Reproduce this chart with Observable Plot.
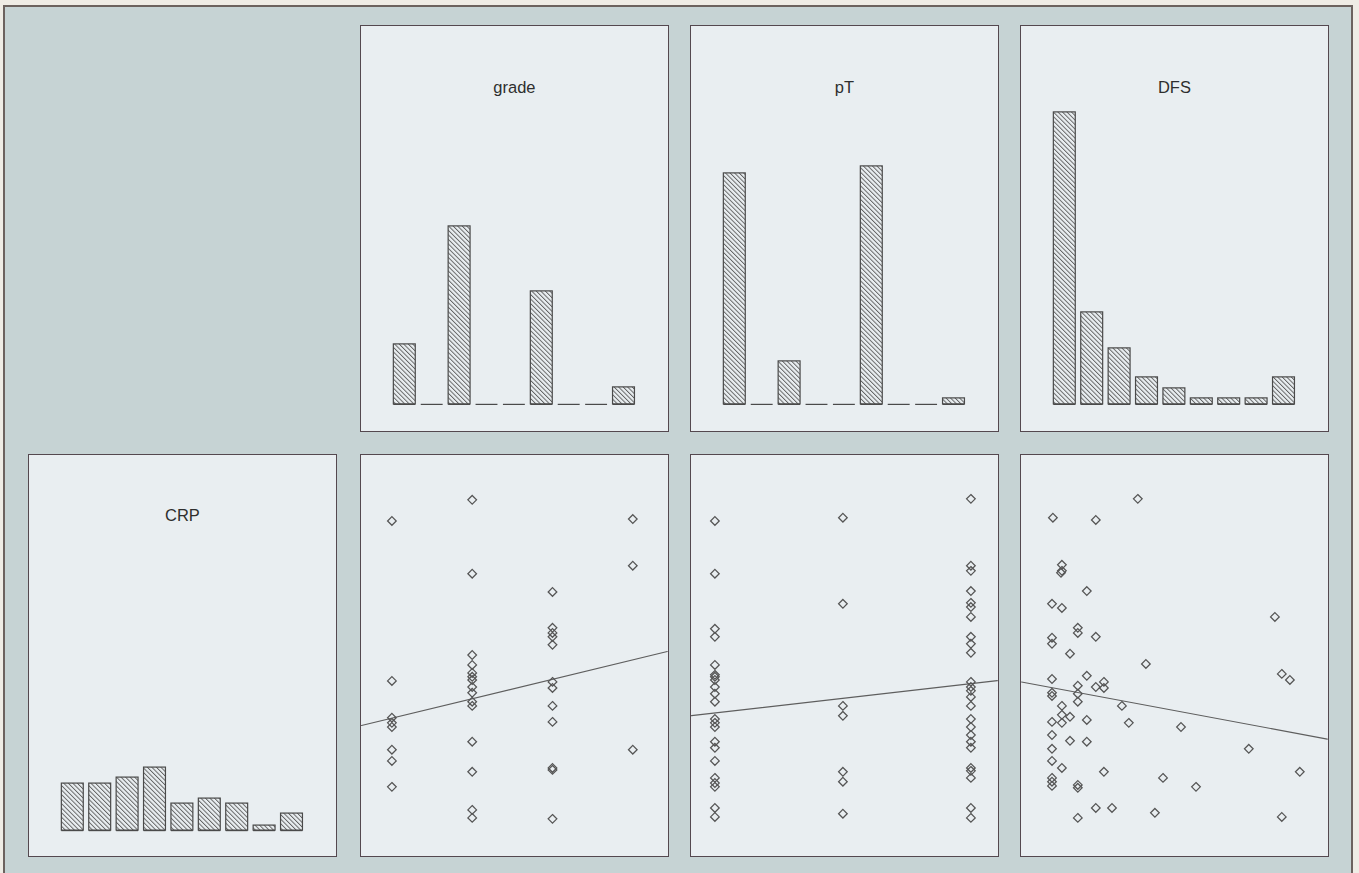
<!DOCTYPE html>
<html>
<head>
<meta charset="utf-8">
<script src="https://cdn.jsdelivr.net/npm/d3@7"></script>
<script src="https://cdn.jsdelivr.net/npm/@observablehq/plot@0.6"></script>
<style>
html, body { margin: 0; padding: 0; background: #efece5; }
#fig { position: relative; width: 1359px; height: 873px; overflow: hidden; background: #efece5; }
#sheet { position: absolute; left: 3px; top: 5px; width: 1350px; height: 880px; background: #c6d3d4;
  border-left: 2px solid #6c625e; border-top: 2px solid #6c625e; border-right: 2px solid #6c625e; box-sizing: border-box; }
.panel { position: absolute; box-sizing: border-box; border: 1.6px solid #54484f; background: #e9eef1; }
.panel svg { display: block; }
</style>
</head>
<body>
<svg width="0" height="0" style="position:absolute">
  <defs>
    <pattern id="hatch" patternUnits="userSpaceOnUse" width="3.2" height="3.2" patternTransform="rotate(-45)">
      <rect width="3.2" height="3.2" fill="#eaeff2"></rect>
      <line x1="0.5" y1="0" x2="0.5" y2="3.2" stroke="#5a5a5a" stroke-width="0.9"></line>
    </pattern>
  </defs>
</svg>
<div id="fig"><div id="sheet"></div></div>
<script>
// ---------- data ----------
const variables = ["CRP", "grade", "pT", "DFS"];

// diagonal histograms: 9 bins each, relative bar heights
const binIndex   = [1, 2, 3, 4, 5, 6, 7, 8, 9];
const crpHist    = [4.7, 4.7, 5.3, 6.3, 2.7, 3.2, 2.7, 0.5, 1.7];
const gradeHist  = [6.0, 0, 17.8, 0, 0, 11.3, 0, 0, 1.7];
const pTHist     = [23.1, 0, 4.3, 0, 0, 23.8, 0, 0, 0.6];
const dfsHist    = [29.2, 9.2, 5.6, 2.7, 1.6, 0.6, 0.6, 0.6, 2.7];

// CRP versus grade
const gradeLevels = [1, 2, 3, 4];
const crpByGrade = [
  [95.3, 45.3, 33.8, 32.2, 30.9, 23.8, 20.3, 12.2],
  [101.9, 78.8, 53.4, 50.3, 47.8, 46.6, 45.6, 43.4, 41.6, 38.8, 37.5, 26.3, 16.9, 5.0, 2.5],
  [73.1, 61.9, 60.3, 59.1, 56.6, 45.0, 43.1, 37.5, 32.5, 18.1, 17.5, 2.2],
  [95.9, 81.3, 23.8]
];

// CRP versus pT
const pTLevels = [1, 2, 3];
const crpByPT = [
  [95.3, 78.8, 61.6, 59.1, 50.3, 47.2, 46.6, 45.6, 43.4, 41.3, 38.8, 33.4, 32.2, 30.9, 26.3, 24.4, 20.3, 15.0, 13.4, 12.2, 5.6, 2.8],
  [96.3, 69.4, 37.5, 34.4, 16.9, 13.8, 3.8],
  [102.2, 81.3, 79.7, 73.4, 69.7, 68.4, 65.3, 59.1, 56.9, 54.1, 45.0, 43.4, 42.2, 40.3, 37.5, 33.4, 30.9, 28.4, 26.3, 24.4, 18.1, 17.2, 15.0, 5.6, 2.5]
];

// CRP versus DFS
const dfsValues = [31.3, 3.0, 17.3, 6.0, 6.0, 5.7, 14.3, 2.7, 6.0, 77.0, 11.3, 11.3, 17.3, 2.7, 2.7, 8.7, 34.0, 79.3, 82.0, 14.3,
  2.7, 11.3, 20.0, 20.0, 17.3, 2.7, 2.7, 11.3, 11.3, 26.0, 6.0, 6.0, 8.7, 14.3, 2.7, 6.0, 28.3, 45.7, 2.7, 8.7,
  14.3, 2.7, 68.3, 2.7, 6.0, 20.0, 85.3, 39.7, 2.7, 2.7, 2.7, 11.3, 11.3, 50.7, 17.3, 22.7, 37.0, 11.3, 79.3];
const crpByDFS = [102.2, 96.3, 95.6, 81.6, 79.7, 79.1, 73.4, 69.4, 68.1, 65.3, 61.9, 60.3, 59.1, 58.8, 56.9, 53.8, 50.6, 47.5, 45.6, 46.9,
  45.9, 43.8, 45.0, 43.1, 43.4, 41.6, 40.6, 41.3, 38.8, 37.5, 37.5, 34.7, 34.1, 33.1, 32.5, 32.2, 32.2, 30.9, 28.4, 26.6,
  26.3, 24.1, 24.1, 20.3, 18.1, 16.9, 16.9, 15.0, 15.0, 13.8, 12.5, 12.8, 11.9, 12.2, 5.6, 5.6, 4.1, 2.5, 2.8];

// fitted straight lines (intercept, slope) of CRP on each variable
const fitGrade = [27.6, 6.07];
const fitPT    = [30.7, 4.58];
const fitDFS   = [43.66, -0.175];

// ---------- layout ----------
const fig = document.getElementById("fig");
const colLeft = [28, 360, 690, 1020], colW = 309;
const rowTop = [25, 454], rowH = [407, 403];
const B = 1.6;
const FONT = "'Liberation Sans', Arial, Helvetica, sans-serif";
const INK = "#555555";

// page-pixel -> value mappings of each axis (layout calibration)
const crpY   = py => (826 - py) / 3.2;
const gradeX = px => 1 + (px - 392) / 80.3;
const pTX    = px => 1 + (px - 715) / 128;
const dfsX   = px => (px - 1044) / 3;
const binX   = left => px => 5 + (px - (left + colW / 2)) / 27.4;
const histY  = base => py => (base - py) / 10;

function makePanel(col, row, xf, yf, marksFn) {
  const left = colLeft[col], top = rowTop[row], w = colW, h = rowH[row];
  const div = document.createElement("div");
  div.className = "panel";
  Object.assign(div.style, {left: left + "px", top: top + "px", width: w + "px", height: h + "px"});
  const xdom = [xf(left + B), xf(left + w - B)];
  const ydom = [yf(top + h - B), yf(top + B)];
  const svg = Plot.plot({
    width: w - 2 * B, height: h - 2 * B, margin: 0,
    x: {domain: xdom, axis: null},
    y: {domain: ydom, axis: null},
    style: {background: "transparent", overflow: "visible", fontFamily: FONT},
    marks: marksFn(xdom)
  });
  div.appendChild(svg);
  fig.appendChild(div);
}

function histMarks(heights, label, dy) {
  const data = binIndex.map((b, i) => ({bin: b, h: heights[i]}));
  return () => [
    Plot.rect(data.filter(d => d.h > 0), {
      x1: d => d.bin - 0.4, x2: d => d.bin + 0.4, y1: 0, y2: "h",
      fill: "url(#hatch)", stroke: "#4a4a4a", strokeWidth: 1.2
    }),
    Plot.ruleY(data, {x1: d => d.bin - 0.4, x2: d => d.bin + 0.4, y: 0, stroke: "#4a4a4a", strokeWidth: 1.2}),
    Plot.text([label], {text: d => d, frameAnchor: "top", dy, fontSize: 16.5, fill: "#2e2e2e", fontFamily: FONT})
  ];
}

function scatterMarks(points, fit) {
  return xdom => [
    Plot.line(xdom.map(x => ({x, y: fit[0] + fit[1] * x})), {x: "x", y: "y", stroke: "#5e5e5e", strokeWidth: 1.2}),
    Plot.dot(points, {x: "x", y: "y", symbol: "diamond2", r: 3.9, stroke: INK, strokeWidth: 1.25, fill: "none"})
  ];
}

const gradePts = gradeLevels.flatMap((g, i) => crpByGrade[i].map(c => ({x: g, y: c})));
const pTPts = pTLevels.flatMap((p, i) => crpByPT[i].map(c => ({x: p, y: c})));
const dfsPts = dfsValues.map((d, i) => ({x: d, y: crpByDFS[i]}));

// top row: diagonal histograms of grade, pT, DFS
makePanel(1, 0, binX(colLeft[1]), histY(404.5), histMarks(gradeHist, variables[1], 54.5));
makePanel(2, 0, binX(colLeft[2]), histY(404.5), histMarks(pTHist, variables[2], 54.5));
makePanel(3, 0, binX(colLeft[3]), histY(404.5), histMarks(dfsHist, variables[3], 54.5));
// bottom row: CRP histogram and CRP against grade, pT, DFS
makePanel(0, 1, binX(colLeft[0]), histY(830.7), histMarks(crpHist, variables[0], 53.5));
makePanel(1, 1, gradeX, crpY, scatterMarks(gradePts, fitGrade));
makePanel(2, 1, pTX, crpY, scatterMarks(pTPts, fitPT));
makePanel(3, 1, dfsX, crpY, scatterMarks(dfsPts, fitDFS));
</script>
</body>
</html>
